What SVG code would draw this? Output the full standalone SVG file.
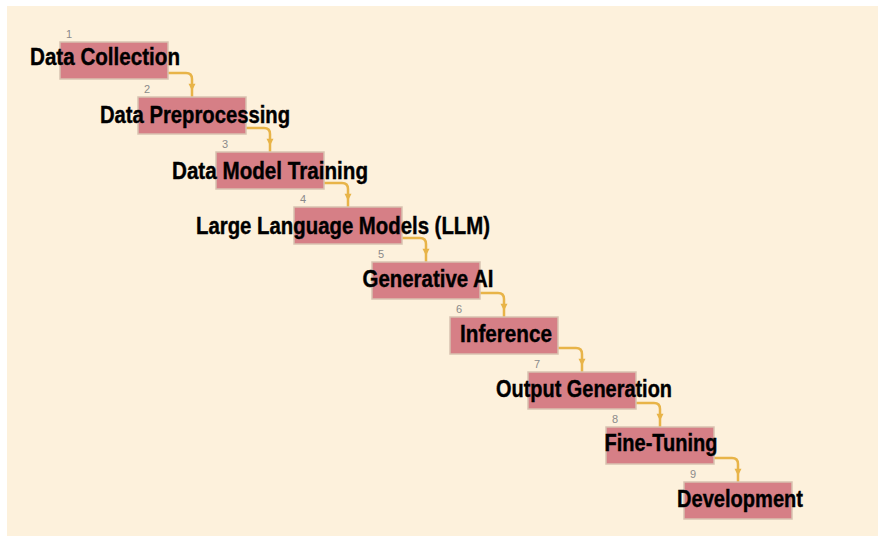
<svg xmlns="http://www.w3.org/2000/svg" width="882" height="536" viewBox="0 0 882 536">
  <defs>
    <marker id="arrow" viewBox="0 0 10 10" refX="19" refY="5" markerWidth="8" markerHeight="7" markerUnits="userSpaceOnUse" orient="auto" overflow="visible">
      <path d="M0,0 L10,5 L0,10 Z" fill="#e8b448"/>
    </marker>
    <style>
      .box { fill: #d67f86; stroke: #d8c2b0; stroke-width: 1.5; }
      .label { font-family: "Liberation Sans Narrow", "Liberation Sans", Arial, sans-serif; font-weight: bold; font-size: 24px; fill: #000; text-anchor: middle; stroke: #000; stroke-width: 0.4; }
      .num { font-family: "Liberation Sans", Arial, sans-serif; font-size: 11px; fill: #8a8a8a; }
      .link { fill: none; stroke: #e8b448; stroke-width: 2.5; marker-end: url(#arrow); }
    </style>
  </defs>

  <!-- page -->
  <rect x="0" y="0" width="882" height="536" fill="#ffffff"/>
  <rect x="7" y="6" width="871" height="530" fill="#fdf1dc"/>

  <!-- connectors: each leaves the right edge of a step and drops onto the next -->
  <g id="connectors">
    <path class="link" d="M168,73 H186 Q192,73 192,79 V97"/>
    <path class="link" d="M246,128 H264 Q270,128 270,134 V152"/>
    <path class="link" d="M324,183 H342 Q348,183 348,189 V207"/>
    <path class="link" d="M402,238 H420 Q426,238 426,244 V262"/>
    <path class="link" d="M480,293 H498 Q504,293 504,299 V317"/>
    <path class="link" d="M558,348 H576 Q582,348 582,354 V372"/>
    <path class="link" d="M636,403 H654 Q660,403 660,409 V427"/>
    <path class="link" d="M714,458 H732 Q738,458 738,464 V482"/>
  </g>

  <g id="step1">
    <rect class="box" x="60" y="42" width="108" height="37"/>
    <text class="num" x="66" y="38">1</text>
    <text class="label" x="105" y="65" textLength="150" lengthAdjust="spacingAndGlyphs">Data Collection</text>
  </g>
  <g id="step2">
    <rect class="box" x="138" y="97" width="108" height="37"/>
    <text class="num" x="144" y="93">2</text>
    <text class="label" x="195" y="123" textLength="190" lengthAdjust="spacingAndGlyphs">Data Preprocessing</text>
  </g>
  <g id="step3">
    <rect class="box" x="216" y="152" width="108" height="37"/>
    <text class="num" x="222" y="148">3</text>
    <text class="label" x="270" y="179" textLength="196" lengthAdjust="spacingAndGlyphs">Data Model Training</text>
  </g>
  <g id="step4">
    <rect class="box" x="294" y="207" width="108" height="37"/>
    <text class="num" x="300" y="203">4</text>
    <text class="label" x="343" y="234" textLength="294" lengthAdjust="spacingAndGlyphs">Large Language Models (LLM)</text>
  </g>
  <g id="step5">
    <rect class="box" x="372" y="262" width="108" height="37"/>
    <text class="num" x="378" y="258">5</text>
    <text class="label" x="428" y="287" textLength="131" lengthAdjust="spacingAndGlyphs">Generative AI</text>
  </g>
  <g id="step6">
    <rect class="box" x="450" y="317" width="108" height="37"/>
    <text class="num" x="456" y="313">6</text>
    <text class="label" x="506" y="342" textLength="92" lengthAdjust="spacingAndGlyphs">Inference</text>
  </g>
  <g id="step7">
    <rect class="box" x="528" y="372" width="108" height="37"/>
    <text class="num" x="534" y="368">7</text>
    <text class="label" x="584" y="397" textLength="176" lengthAdjust="spacingAndGlyphs">Output Generation</text>
  </g>
  <g id="step8">
    <rect class="box" x="606" y="427" width="108" height="37"/>
    <text class="num" x="612" y="423">8</text>
    <text class="label" x="661" y="451" textLength="113" lengthAdjust="spacingAndGlyphs">Fine-Tuning</text>
  </g>
  <g id="step9">
    <rect class="box" x="684" y="482" width="108" height="37"/>
    <text class="num" x="690" y="478">9</text>
    <text class="label" x="740" y="507" textLength="126" lengthAdjust="spacingAndGlyphs">Development</text>
  </g>
</svg>
